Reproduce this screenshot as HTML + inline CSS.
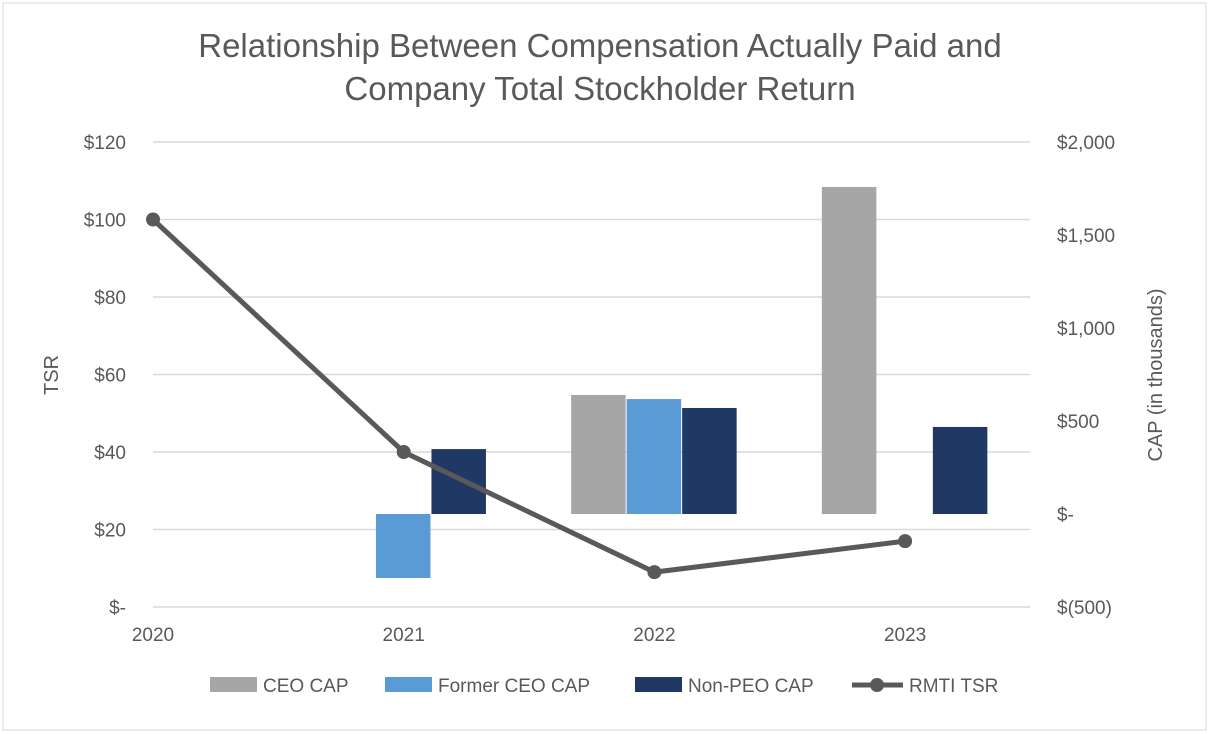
<!DOCTYPE html>
<html><head><meta charset="utf-8"><style>
html,body{margin:0;padding:0;background:#fff;}
svg{display:block;font-family:"Liberation Sans",sans-serif;}
</style></head><body>
<svg id="c" width="1210" height="734">
<rect x="3" y="3" width="1203" height="727" fill="#fff" stroke="#d9d9d9"/>
<text x="600" y="57" text-anchor="middle" font-size="33" fill="#595959">Relationship Between Compensation Actually Paid and</text>
<text x="600" y="100" text-anchor="middle" font-size="33" fill="#595959">Company Total Stockholder Return</text>
<text transform="translate(58,375) rotate(-90)" text-anchor="middle" font-size="20" fill="#595959">TSR</text>
<text transform="translate(1162,375) rotate(-90)" text-anchor="middle" font-size="20" fill="#595959">CAP (in thousands)</text>
<g id="grid"></g><g id="bars"></g><g id="line"></g><g id="axes"></g><g id="legend"></g>
</svg>
<script>
const years=["2020","2021","2022","2023"];
const tsr=[100,40,9,17];
const ceoCap=[null,null,640,1758];
const formerCap=[null,-344,618,null];
const nonPeoCap=[null,349,570,468];
const leftTicks=[0,20,40,60,80,100,120];
const leftLabels=["$-","$20","$40","$60","$80","$100","$120"];
const rightTicks=[-500,0,500,1000,1500,2000];
const rightLabels=["$(500)","$-","$500","$1,000","$1,500","$2,000"];
const NS="http://www.w3.org/2000/svg";
const yL=v=>607-(v/120)*465;
const yR=v=>514-(v/500)*93;
const xC=i=>153+i*250.7;
function mk(t,a,p){const e=document.createElementNS(NS,t);for(const k in a)e.setAttribute(k,a[k]);p.appendChild(e);return e;}
const grid=document.getElementById('grid'),axes=document.getElementById('axes'),bars=document.getElementById('bars'),line=document.getElementById('line'),leg=document.getElementById('legend');
leftTicks.forEach((v,i)=>{
 const g=mk('line',{x1:153,x2:1030,y1:yL(v),y2:yL(v),stroke:'#d9d9d9','stroke-width':1.5},grid);
 
 
 const t=mk('text',{x:126,y:yL(v)+7,'text-anchor':'end','font-size':19,fill:'#595959'},axes);t.textContent=leftLabels[i];
 
 
});
rightTicks.forEach((v,i)=>{
 const t=mk('text',{x:1057,y:yR(v)+7,'font-size':19,fill:'#595959'},axes);t.textContent=rightLabels[i];
 
 
});
years.forEach((y,i)=>{
 const t=mk('text',{x:xC(i),y:641,'text-anchor':'middle','font-size':19,fill:'#595959'},axes);t.textContent=y;
 
 
});
const series=[[ceoCap,'#a6a6a6',-1],[formerCap,'#5b9bd5',0],[nonPeoCap,'#203864',1]];
const bw=55.5;
series.forEach(([arr,col,off])=>{
 arr.forEach((v,i)=>{
  if(v==null)return;
  const cx=xC(i)+off*bw;const y0=yR(0),y1=yR(v);
  const r=mk('rect',{x:cx-bw/2,y:Math.min(y0,y1),width:bw-1,height:Math.abs(y1-y0),fill:col},bars);
  
  
 });
});
const pl=mk('polyline',{points:tsr.map((v,i)=>xC(i)+','+yL(v)).join(' '),fill:'none',stroke:'#595959','stroke-width':5},line);


tsr.forEach((v,i)=>{
 const c=mk('circle',{cx:xC(i),cy:yL(v),r:7,fill:'#595959'},line);
 
 
});
const items=[['CEO CAP','#a6a6a6',210],['Former CEO CAP','#5b9bd5',385],['Non-PEO CAP','#203864',635]];
items.forEach(([n,c,x])=>{
 const r=mk('rect',{x:x,y:677,width:47,height:15,fill:c},leg);
 
 
 const t=mk('text',{x:x+53,y:692,'font-size':19,fill:'#595959'},leg);t.textContent=n;
 
 
});
const ll=mk('line',{x1:852,x2:903,y1:685,y2:685,stroke:'#595959','stroke-width':5},leg);


const lc=mk('circle',{cx:877,cy:685,r:7,fill:'#595959'},leg);


const lt=mk('text',{x:909,y:692,'font-size':19,fill:'#595959'},leg);lt.textContent='RMTI TSR';


</script>
</body></html>
